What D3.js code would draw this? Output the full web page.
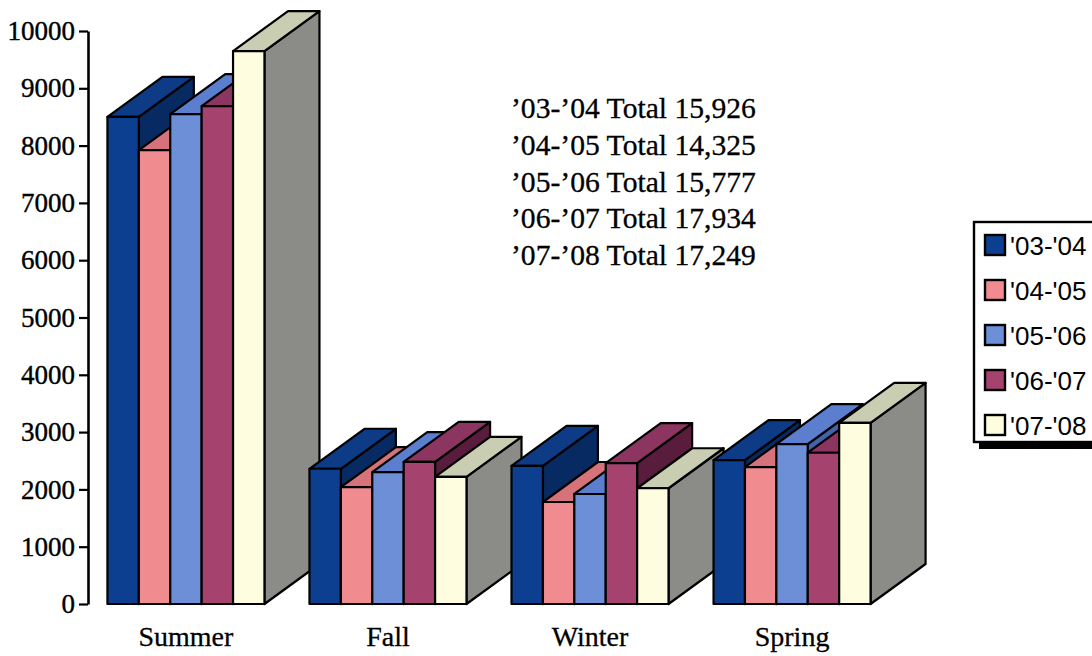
<!DOCTYPE html>
<html>
<head>
<meta charset="utf-8">
<script src="https://cdn.jsdelivr.net/npm/d3@7"></script>
<style>
  html, body { margin: 0; padding: 0; background: #ffffff; }
  svg { display: block; }
</style>
</head>
<body>
<svg id="chart" width="1092" height="656"></svg>
<script>
// Enrollment by term, five academic years
const seasons = ["Summer", "Fall", "Winter", "Spring"];
const years = ["'03-'04", "'04-'05", "'05-'06", "'06-'07", "'07-'08"];

// values per year, in season order
const y0304 = [8500, 2360, 2410, 2510];
const y0405 = [7920, 2040, 1780, 2390];
const y0506 = [8550, 2300, 1920, 2790];
const y0607 = [8690, 2480, 2460, 2640];
const y0708 = [9650, 2220, 2020, 3160];

const yearTotals = [15926, 14325, 15777, 17934, 17249];
const yTicks = [0, 1000, 2000, 3000, 4000, 5000, 6000, 7000, 8000, 9000, 10000];

// face colours: front, top, side
const frontColors = ["#0c3f8f", "#f08b90", "#6c8fd7", "#a5426d", "#fffde0"];
const topColors   = ["#0d3b85", "#d6737a", "#5b7ece", "#8c3561", "#c9cdb1"];
const sideColors  = ["#072a63", "#b85a60", "#4362ab", "#5a1c3c", "#8b8c87"];

const seriesValues = [y0304, y0405, y0506, y0607, y0708];

const svg = d3.select("#chart");
const serif = "'Liberation Serif', 'Times New Roman', serif";
const sans = "'Liberation Sans', Arial, sans-serif";

const y = d3.scaleLinear().domain([0, 10000]).range([604, 31]);

const x = d3.scaleBand()
  .domain(seasons)
  .range([85, 893])
  .paddingInner(0.2228)
  .paddingOuter(0.111);

const xs = d3.scaleBand()
  .domain(years)
  .range([0, x.bandwidth()])
  .padding(0);

// oblique depth offset
const dx = 55, dy = 40;

const barsG = svg.append("g");

seasons.forEach((season, ci) => {
  years.forEach((yr, si) => {
    const v = seriesValues[si][ci];
    const x0 = x(season) + xs(yr);
    const w = xs.bandwidth();
    const yt = y(v), yb = y(0);
    const g = barsG.append("g")
      .attr("stroke", "#000")
      .attr("stroke-width", 2.2)
      .attr("stroke-linejoin", "round");
    // right side
    g.append("polygon")
      .attr("points", [[x0 + w, yt], [x0 + w + dx, yt - dy], [x0 + w + dx, yb - dy], [x0 + w, yb]].map(p => p.join(",")).join(" "))
      .attr("fill", sideColors[si]);
    // top
    g.append("polygon")
      .attr("points", [[x0, yt], [x0 + dx, yt - dy], [x0 + w + dx, yt - dy], [x0 + w, yt]].map(p => p.join(",")).join(" "))
      .attr("fill", topColors[si]);
    // front
    g.append("rect")
      .attr("x", x0).attr("y", yt)
      .attr("width", w).attr("height", yb - yt)
      .attr("fill", frontColors[si]);
  });
});

// value axis
const yAxis = d3.axisLeft(y)
  .tickValues(yTicks)
  .tickFormat(d3.format("d"))
  .tickSize(9)
  .tickSizeOuter(0)
  .tickPadding(4);

const axG = svg.append("g")
  .attr("transform", "translate(88,0)")
  .call(yAxis);
axG.select(".domain").attr("stroke", "#000").attr("stroke-width", 2.6);
axG.selectAll(".tick line").attr("stroke", "#000").attr("stroke-width", 2.2);
axG.selectAll(".tick text")
  .attr("fill", "#000")
  .attr("stroke", "#000")
  .attr("stroke-width", 0.4)
  .style("font-family", serif)
  .style("font-size", "27px");

// season labels
svg.append("g").selectAll("text")
  .data(seasons)
  .join("text")
  .attr("x", d => x(d) + x.bandwidth() / 2)
  .attr("y", 646)
  .attr("text-anchor", "middle")
  .style("font-family", serif)
  .style("font-size", "28px")
  .attr("fill", "#000")
  .attr("stroke", "#000")
  .attr("stroke-width", 0.3)
  .text(d => d);

// yearly totals
const fmt = d3.format(",");
svg.append("g").selectAll("text")
  .data(years)
  .join("text")
  .attr("x", 511)
  .attr("y", (d, i) => 118 + i * 36.8)
  .style("font-family", serif)
  .style("font-size", "29.6px")
  .attr("fill", "#000")
  .attr("stroke", "#000")
  .attr("stroke-width", 0.3)
  .text((d, i) => d.replace(/'/g, "\u2019") + " Total " + fmt(yearTotals[i]));

// legend
const lg = svg.append("g");
lg.append("rect")
  .attr("x", 979).attr("y", 228)
  .attr("width", 140).attr("height", 221)
  .attr("fill", "#000");
lg.append("rect")
  .attr("x", 974).attr("y", 222)
  .attr("width", 140).attr("height", 220)
  .attr("fill", "#fff")
  .attr("stroke", "#000")
  .attr("stroke-width", 2.4);

const entries = lg.selectAll("g.entry")
  .data(years)
  .join("g")
  .attr("class", "entry")
  .attr("transform", (d, i) => `translate(0,${235 + i * 45})`);
entries.append("rect")
  .attr("x", 985).attr("y", 0)
  .attr("width", 20).attr("height", 20)
  .attr("fill", (d, i) => frontColors[i])
  .attr("stroke", "#000")
  .attr("stroke-width", 2.4);
entries.append("text")
  .attr("x", 1010)
  .attr("y", 20)
  .style("font-family", sans)
  .style("font-size", "26px")
  .attr("fill", "#000")
  .text(d => d);
</script>
</body>
</html>
